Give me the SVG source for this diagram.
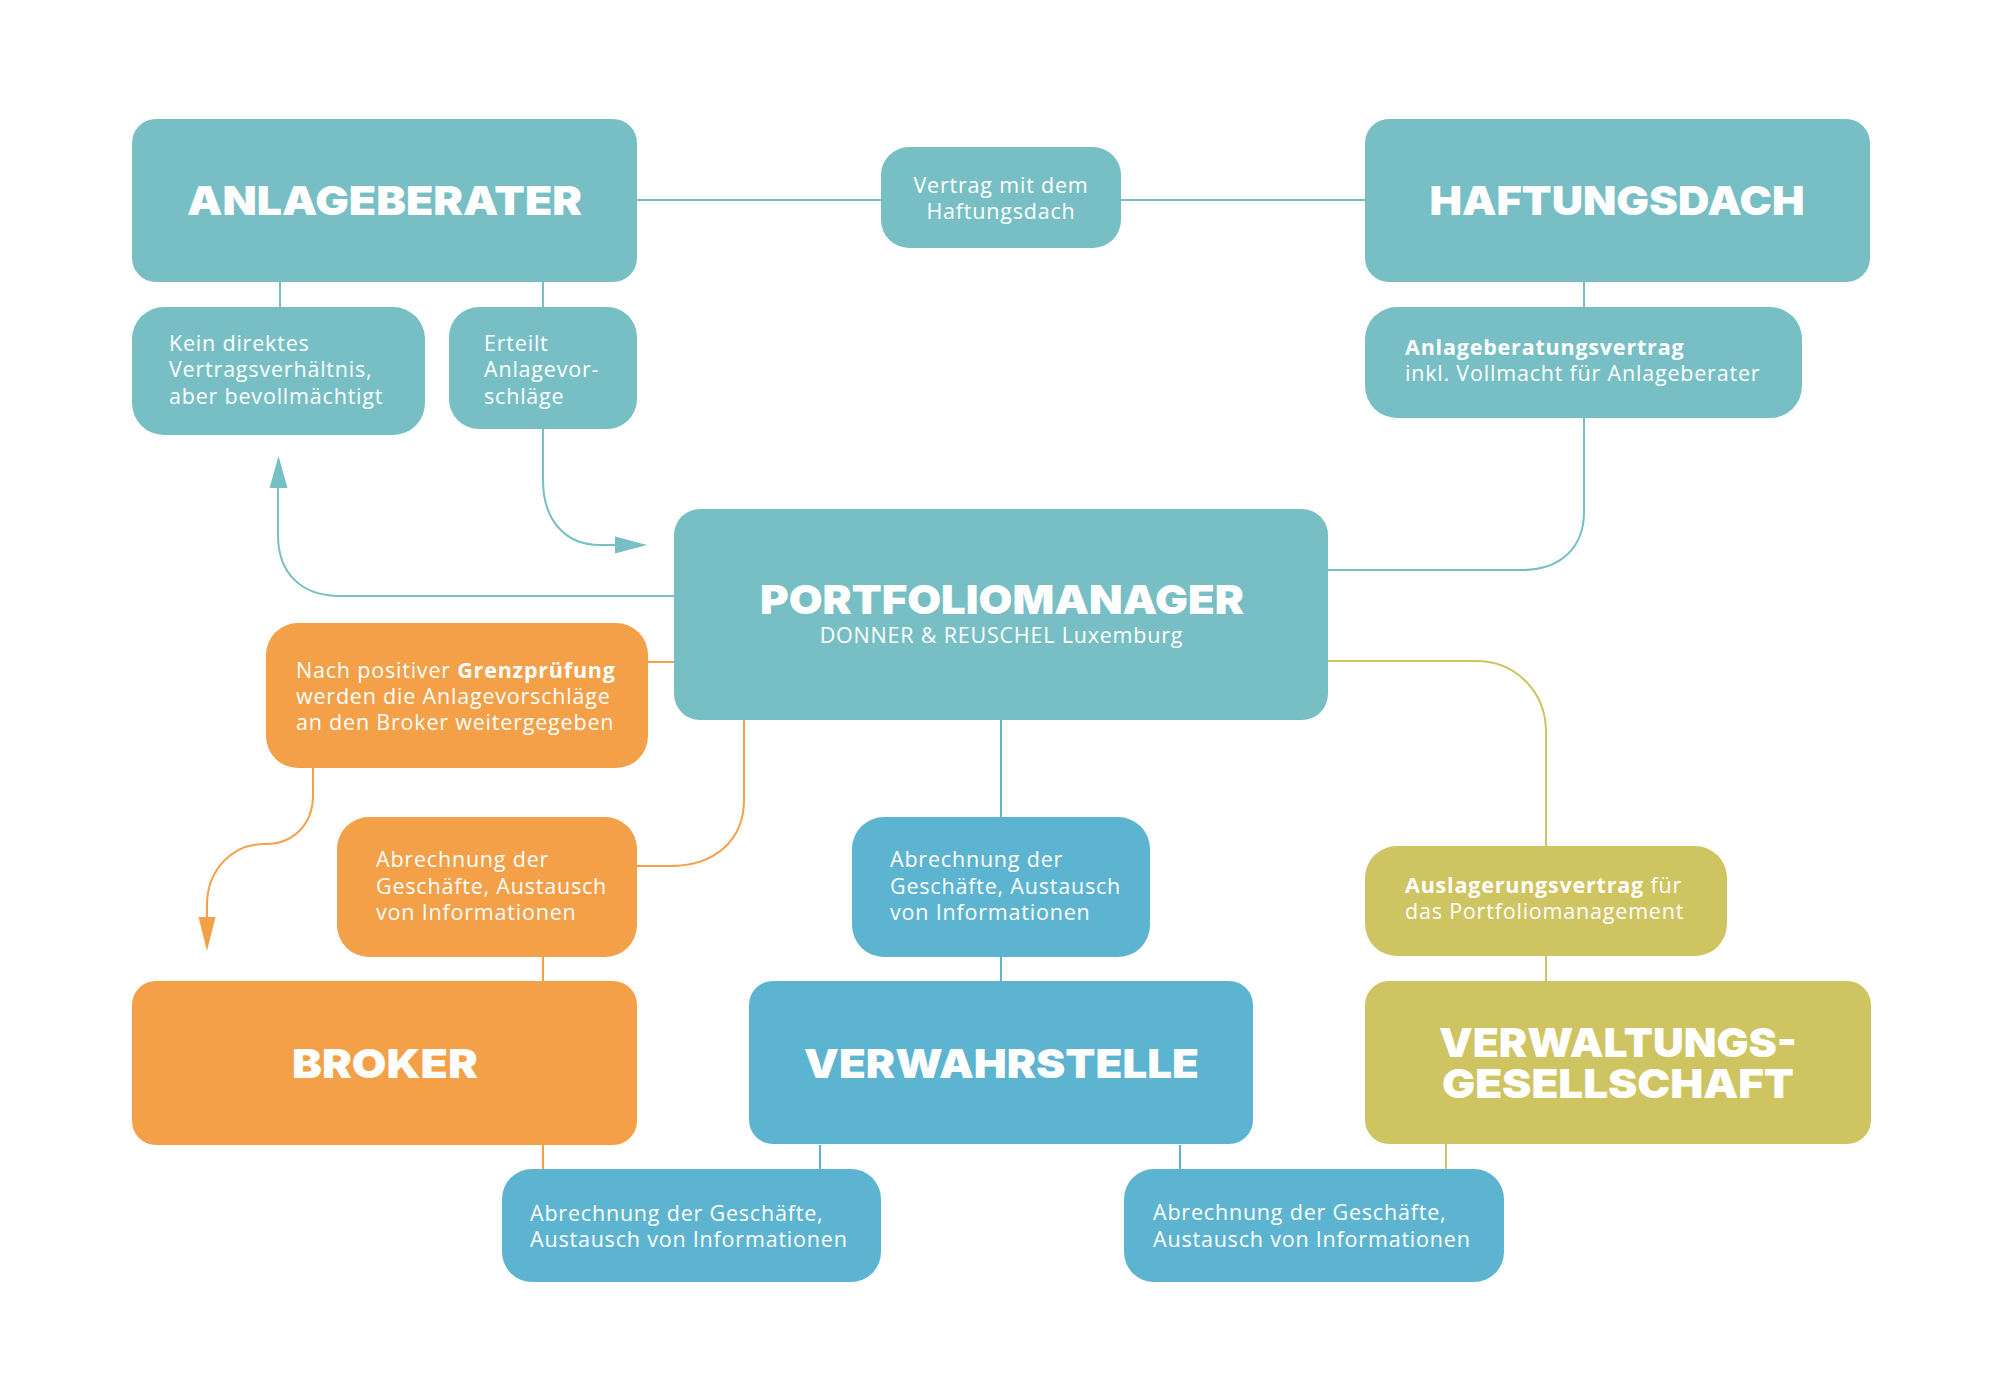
<svg xmlns="http://www.w3.org/2000/svg" width="2001" height="1396" viewBox="0 0 2001 1396">
<style>
.teal{fill:#77BFC5}
.blue{fill:#5DB4D1}
.orange{fill:#F3A048}
.gold{fill:#CFC462}
.head{font-family:Inter,Roboto,"Liberation Sans",sans-serif;font-weight:900;font-size:40px;fill:#fff;text-anchor:middle}
.txt{font-family:"Open Sans","Noto Sans","Liberation Sans",sans-serif;font-size:21.5px;letter-spacing:0.8px;fill:#fff}
.mid{text-anchor:middle}
.b{font-weight:700}
.lt{fill:none;stroke:#77BFC5;stroke-width:2}
.lo{fill:none;stroke:#F3A048;stroke-width:2}
.lb{fill:none;stroke:#5DB4D1;stroke-width:2}
.lg{fill:none;stroke:#CFC462;stroke-width:2}
</style>
<rect width="2001" height="1396" fill="#fff"/>
<g id="connectors">
<path class="lt" d="M637,200 H881 M1121,200 H1365 M280,282 V307 M543,282 V307 M1584,282 V307"/>
<path class="lt" d="M543,429 V480 C543,520 565,545 600,545 H618"/>
<polygon class="teal" points="615,536.5 647,545 615,553.5"/>
<path class="lt" d="M674,596 H340 C300,596 278,572 278,535 V486"/>
<polygon class="teal" points="269.5,488 278.5,456 287.5,488"/>
<path class="lt" d="M1584,418 V512 C1584,548 1560,570 1522,570 H1328"/>
<path class="lo" d="M648,662 H674"/>
<path class="lo" d="M313,768 V795 C313,825 293,844 265,844 C232,844 207,870 207,905 V919"/>
<polygon class="orange" points="198.5,917 215.5,917 207,951"/>
<path class="lo" d="M744,720 V800 C744,840 715,866 670,866 H637"/>
<path class="lo" d="M543,957 V981 M543,1145 V1169"/>
<path class="lb" d="M1001,720 V817 M1001,957 V981 M820,1145 V1169 M1180,1145 V1169"/>
<path class="lg" d="M1328,661 H1476 C1516,661 1546,692 1546,732 V846 M1546,956 V981 M1446,1144 V1169"/>
</g>
<g id="anlageberater">
<rect class="teal" x="132" y="119" width="505" height="163" rx="24"/>
<text class="head" x="384.5" y="215" textLength="395" lengthAdjust="spacingAndGlyphs">ANLAGEBERATER</text>
</g>
<g id="haftungsdach">
<rect class="teal" x="1365" y="119" width="505" height="163" rx="24"/>
<text class="head" x="1617" y="215" textLength="375" lengthAdjust="spacingAndGlyphs">HAFTUNGSDACH</text>
</g>
<g id="vertrag">
<rect class="teal" x="881" y="147" width="240" height="101" rx="28"/>
<text class="txt mid" x="1001" y="192.5">Vertrag mit dem</text>
<text class="txt mid" x="1001" y="218.5">Haftungsdach</text>
</g>
<g id="kein-direktes">
<rect class="teal" x="132" y="307" width="293" height="128" rx="32"/>
<text class="txt" x="169" y="350.5">Kein direktes</text>
<text class="txt" x="169" y="377">Vertragsverhältnis,</text>
<text class="txt" x="169" y="403.5">aber bevollmächtigt</text>
</g>
<g id="erteilt">
<rect class="teal" x="449" y="307" width="188" height="122" rx="30"/>
<text class="txt" x="484" y="350.5">Erteilt</text>
<text class="txt" x="484" y="377">Anlagevor-</text>
<text class="txt" x="484" y="403.5">schläge</text>
</g>
<g id="anlageberatungsvertrag">
<rect class="teal" x="1365" y="307" width="437" height="111" rx="32"/>
<text class="txt b" x="1405" y="355">Anlageberatungsvertrag</text>
<text class="txt" x="1405" y="381">inkl. Vollmacht für Anlageberater</text>
</g>
<g id="portfoliomanager">
<rect class="teal" x="674" y="509" width="654" height="211" rx="26"/>
<text class="head" x="1002" y="614" textLength="484" lengthAdjust="spacingAndGlyphs">PORTFOLIOMANAGER</text>
<text class="txt mid" x="1001.5" y="643">DONNER &amp; REUSCHEL Luxemburg</text>
</g>
<g id="grenzpruefung">
<rect class="orange" x="266" y="623" width="382" height="145" rx="32"/>
<text class="txt" x="296" y="678">Nach positiver <tspan class="b">Grenzprüfung</tspan></text>
<text class="txt" x="296" y="704">werden die Anlagevorschläge</text>
<text class="txt" x="296" y="730">an den Broker weitergegeben</text>
</g>
<g id="abrechnung-orange">
<rect class="orange" x="337" y="817" width="300" height="140" rx="32"/>
<text class="txt" x="376" y="867">Abrechnung der</text>
<text class="txt" x="376" y="893.5">Geschäfte, Austausch</text>
<text class="txt" x="376" y="920">von Informationen</text>
</g>
<g id="abrechnung-blue">
<rect class="blue" x="852" y="817" width="298" height="140" rx="32"/>
<text class="txt" x="890" y="867">Abrechnung der</text>
<text class="txt" x="890" y="893.5">Geschäfte, Austausch</text>
<text class="txt" x="890" y="920">von Informationen</text>
</g>
<g id="auslagerungsvertrag">
<rect class="gold" x="1365" y="846" width="362" height="110" rx="32"/>
<text class="txt" x="1405" y="893"><tspan class="b">Auslagerungsvertrag</tspan> für</text>
<text class="txt" x="1405" y="919">das Portfoliomanagement</text>
</g>
<g id="broker">
<rect class="orange" x="132" y="981" width="505" height="164" rx="24"/>
<text class="head" x="385" y="1078" textLength="186" lengthAdjust="spacingAndGlyphs">BROKER</text>
</g>
<g id="verwahrstelle">
<rect class="blue" x="749" y="981" width="504" height="163" rx="24"/>
<text class="head" x="1001.5" y="1078" textLength="395" lengthAdjust="spacingAndGlyphs">VERWAHRSTELLE</text>
</g>
<g id="verwaltungsgesellschaft">
<rect class="gold" x="1365" y="981" width="506" height="163" rx="24"/>
<text class="head" x="1618" y="1057" textLength="358" lengthAdjust="spacingAndGlyphs">VERWALTUNGS-</text>
<text class="head" x="1618" y="1098" textLength="352" lengthAdjust="spacingAndGlyphs">GESELLSCHAFT</text>
</g>
<g id="abrechnung-links">
<rect class="blue" x="502" y="1169" width="379" height="113" rx="30"/>
<text class="txt" x="530" y="1221">Abrechnung der Geschäfte,</text>
<text class="txt" x="530" y="1247">Austausch von Informationen</text>
</g>
<g id="abrechnung-rechts">
<rect class="blue" x="1124" y="1169" width="380" height="113" rx="30"/>
<text class="txt" x="1153" y="1220">Abrechnung der Geschäfte,</text>
<text class="txt" x="1153" y="1247">Austausch von Informationen</text>
</g>
</svg>
